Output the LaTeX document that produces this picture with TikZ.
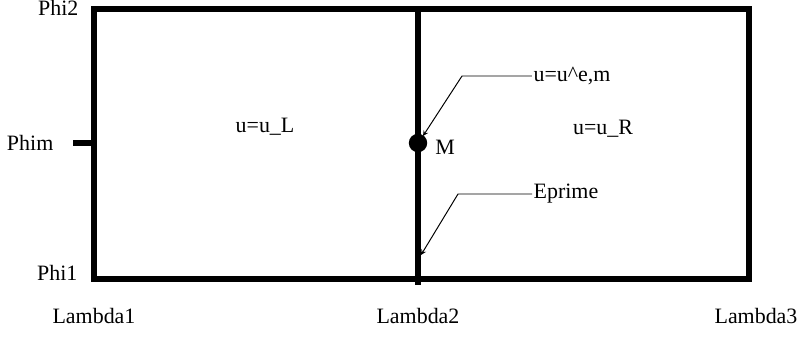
\documentclass[tikz,border=0pt]{standalone}
\usepackage{fontspec}
\setmainfont{Liberation Serif}
\usetikzlibrary{arrows}
\begin{document}
\begin{tikzpicture}[font=\fontsize{15.6}{18}\selectfont, line join=miter, >=stealth,
	frame/.style={line width=4.3pt},
	callout/.style={line width=0.7pt,->},
	lbl/.style={inner sep=1pt}]
	\def \xl{2.35};
	\def \xm{10.45};
	\def \xr{18.725};
	\def \yb{1.46};
	\def \yt{8.21};
	\def \ym{4.85};
	\useasboundingbox (0,0) rectangle (19.95,8.425);
	% domain
	\draw[frame] (\xl,\yb) rectangle (\xr,\yt);
	\draw[frame] (\xm,\yt) -- (\xm,\yb-0.16);
	\draw[frame] (\xl-0.525,\ym) -- (\xl,\ym);
	\fill (\xm,\ym) circle(0.23);
	% labels
	\node[lbl, anchor=east] (phiTwo) at (2.0,8.22) {Phi2};
	\node[lbl, anchor=east] (phiM) at (1.375,\ym) {Phim};
	\node[lbl, anchor=east] (phiOne) at (1.975,1.6) {Phi1};
	\node[lbl] (lamOne) at (\xl,0.525) {Lambda1};
	\node[lbl] (lamTwo) at (\xm,0.525) {Lambda2};
	\node[lbl] (lamThree) at (18.9,0.525) {Lambda3};
	\node[lbl] (uL) at (6.625,5.25) {u=u\_L};
	\node[lbl] (uR) at (15.075,5.2) {u=u\_R};
	\node[lbl] (mLbl) at (11.125,4.75) {M};
	\node[lbl] (uEm) at (14.3,6.525) {u=u\textasciicircum e,m};
	\node[lbl] (ePrime) at (14.15,3.575) {Eprime};
	% callouts
	\coordinate (tipM) at (10.575,5.025);
	\coordinate (tipE) at (10.525,2.05);
	\draw[callout] (uEm.west) -- (11.55,6.525) -- (tipM);
	\draw[callout] (ePrime.west) -- (11.45,3.575) -- (tipE);
\end{tikzpicture}
\end{document}
